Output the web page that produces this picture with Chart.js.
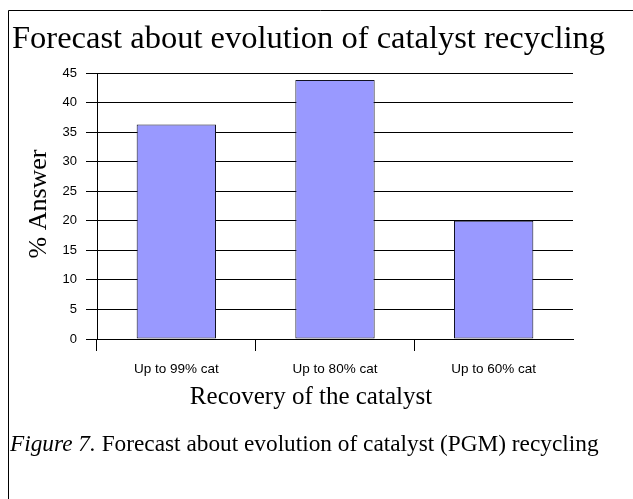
<!DOCTYPE html>
<html>
<head>
<meta charset="utf-8">
<script src="https://cdn.jsdelivr.net/npm/chart.js@4.4.0/dist/chart.umd.min.js"></script>
<style>
html,body{margin:0;padding:0;background:#fff;}
#wrap{position:relative;width:633px;height:499px;}
</style>
</head>
<body>
<div id="wrap"><canvas id="c" width="633" height="499"></canvas></div>
<script>
const chartTitle = "Forecast about evolution of catalyst recycling";
const categories = ["Up to 99% cat", "Up to 80% cat", "Up to 60% cat"];
const answerPercent = [36.3, 43.8, 20.0];
const yTicks = [0, 5, 10, 15, 20, 25, 30, 35, 40, 45];
const yAxisTitle = "% Answer";
const xAxisTitle = "Recovery of the catalyst";
const captionItalic = "Figure 7.";
const captionRest = " Forecast about evolution of catalyst (PGM) recycling";

const decor = {
  id: 'decor',
  afterDraw(chart) {
    const ctx = chart.ctx;
    ctx.save();
    // frame lines
    ctx.strokeStyle = '#000';
    ctx.lineWidth = 1;
    ctx.beginPath();
    ctx.moveTo(8.5, 499);
    ctx.lineTo(8.5, 10.5);
    ctx.lineTo(633, 10.5);
    ctx.stroke();
    // main title
    ctx.fillStyle = '#000';
    ctx.textBaseline = 'alphabetic';
    ctx.textAlign = 'left';
    ctx.font = '32.5px "Liberation Serif", "Times New Roman", serif';
    ctx.fillText(chartTitle, 12, 48);
    // x axis title
    ctx.font = '25px "Liberation Serif", "Times New Roman", serif';
    ctx.textAlign = 'center';
    ctx.fillText(xAxisTitle, 311, 404);
    // y axis title
    ctx.save();
    ctx.font = '26px "Liberation Serif", "Times New Roman", serif';
    ctx.translate(46, 204);
    ctx.rotate(-Math.PI / 2);
    ctx.textAlign = 'center';
    ctx.fillText(yAxisTitle, 0, 0);
    ctx.restore();
    // caption
    ctx.textAlign = 'left';
    ctx.font = 'italic 23.3px "Liberation Serif", "Times New Roman", serif';
    ctx.fillText(captionItalic, 10, 451);
    const w = ctx.measureText(captionItalic).width;
    ctx.font = '23.3px "Liberation Serif", "Times New Roman", serif';
    ctx.fillText(captionRest, 10 + w, 451);
    ctx.restore();
  }
};

new Chart(document.getElementById('c'), {
  type: 'bar',
  data: {
    labels: categories,
    datasets: [{
      data: answerPercent,
      backgroundColor: '#9999FF',
      borderColor: '#111122',
      borderWidth: 1,
      borderSkipped: false,
      categoryPercentage: 0.5,
      barPercentage: 1.0
    }]
  },
  options: {
    responsive: false,
    animation: false,
    devicePixelRatio: 1,
    layout: { padding: { top: 73, left: 0, right: 60, bottom: 0 } },
    plugins: { legend: { display: false }, tooltip: { enabled: false }, title: { display: false } },
    scales: {
      x: {
        grid: {
          offset: true,
          drawOnChartArea: false,
          drawTicks: true,
          tickLength: 12,
          color: (c) => c.type === 'tick' ? '#000' : 'rgba(0,0,0,0)'
        },
        border: { display: true, color: '#000', width: 1 },
        ticks: {
          color: '#000',
          font: { family: '"Liberation Sans", Arial, sans-serif', size: 13.5 },
          padding: 10,
          maxRotation: 0
        },
        afterFit: (s) => { s.height = 160; }
      },
      y: {
        min: 0,
        max: 45,
        afterBuildTicks: (s) => { s.ticks = yTicks.map(v => ({ value: v })); },
        grid: { color: '#000', tickLength: 11, drawTicks: true },
        border: { display: true, color: '#000', width: 1 },
        ticks: {
          color: '#000',
          font: { family: '"Liberation Sans", Arial, sans-serif', size: 13 },
          padding: 9
        },
        afterFit: (s) => { s.width = 97; }
      }
    }
  },
  plugins: [decor]
});
</script>
</body>
</html>
